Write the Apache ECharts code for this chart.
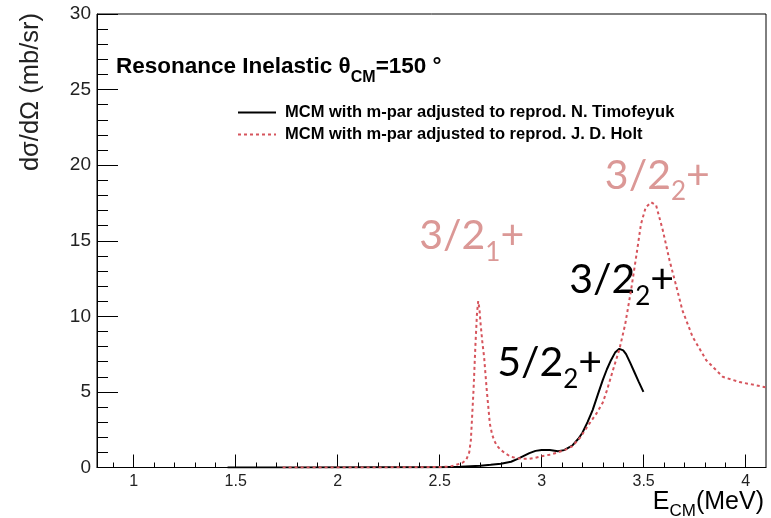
<!DOCTYPE html>
<html>
<head>
<meta charset="utf-8">
<script src="https://cdn.jsdelivr.net/npm/echarts@6/dist/echarts.min.js"></script>
<style>
  html, body { margin: 0; padding: 0; background: #fff; }
  #chart { width: 771px; height: 518px; }
</style>
</head>
<body>
<div id="chart"></div>
<script>
// Cross section vs. centre-of-mass energy, two MCM parameter sets
const timofeyukE  = [1.46, 1.8, 2.2, 2.5, 2.6, 2.7, 2.75, 2.8, 2.85, 2.88, 2.91, 2.94, 2.97, 3.0, 3.04, 3.08, 3.11, 3.15, 3.18, 3.2, 3.225, 3.25, 3.275, 3.3, 3.32, 3.34, 3.36, 3.381, 3.4, 3.414, 3.435, 3.455, 3.475, 3.499];
const timofeyukXS = [0.0, 0.0, 0.01, 0.02, 0.05, 0.12, 0.18, 0.25, 0.38, 0.55, 0.75, 0.95, 1.1, 1.16, 1.15, 1.08, 1.15, 1.45, 1.9, 2.3, 3.0, 3.8, 4.8, 5.8, 6.5, 7.1, 7.6, 7.85, 7.75, 7.5, 6.9, 6.3, 5.7, 5.0];

const holtE  = [1.73, 2.0, 2.3, 2.5, 2.55, 2.58, 2.61, 2.63, 2.645, 2.653, 2.666, 2.675, 2.683, 2.689, 2.695, 2.70, 2.71, 2.718, 2.731, 2.746, 2.757, 2.767, 2.78, 2.80, 2.82, 2.849, 2.88, 2.91, 2.94, 2.97, 3.00, 3.04, 3.08, 3.12, 3.15, 3.19, 3.234, 3.27, 3.30, 3.32, 3.34, 3.36, 3.381, 3.41, 3.438, 3.463, 3.487, 3.51, 3.537, 3.561, 3.594, 3.627, 3.66, 3.69, 3.74, 3.807, 3.888, 3.97, 4.03, 4.10];
const holtXS = [0.0, 0.0, 0.01, 0.03, 0.06, 0.17, 0.3, 0.5, 1.0, 1.8, 5.1, 8.0, 10.2, 11.0, 10.5, 9.6, 8.2, 7.3, 5.1, 2.9, 2.2, 1.8, 1.45, 1.16, 0.95, 0.71, 0.62, 0.57, 0.58, 0.65, 0.75, 0.85, 1.0, 1.2, 1.4, 2.0, 2.9, 3.6, 4.3, 5.1, 6.0, 6.9, 7.8, 9.5, 11.7, 13.9, 16.1, 17.2, 17.55, 17.35, 15.7, 13.7, 12.0, 10.4, 8.65, 7.1, 6.0, 5.65, 5.5, 5.3];

const seriesNames = [
  'MCM with m-par adjusted to reprod. N. Timofeyuk',
  'MCM with m-par adjusted to reprod. J. D. Holt'
];

// axis ticks
const xMajorTicks = [1, 1.5, 2, 2.5, 3, 3.5, 4];
const xMinorTicks = [0.9, 1.1, 1.2, 1.3, 1.4, 1.6, 1.7, 1.8, 1.9, 2.1, 2.2, 2.3, 2.4, 2.6, 2.7, 2.8, 2.9, 3.1, 3.2, 3.3, 3.4, 3.6, 3.7, 3.8, 3.9];
const xRange = [0.82, 4.1];
const yRange = [0, 30];

// state labels: [main, subscript, suffix, E, sigma, colour key]
const stateLabels = [
  ['3/2', '1', '+', 2.40, 14.5, 'holt'],
  ['3/2', '2', '+', 3.31, 18.5, 'holt'],
  ['3/2', '2', '+', 3.135, 11.6, 'timo'],
  ['5/2', '2', '+', 2.782, 6.1, 'timo']
];

const zip = (a, b) => a.map((v, i) => [v, b[i]]);
const SANS = '"Liberation Sans", Arial, Helvetica, sans-serif';
const LABEL_FONT = 'Lato, "Open Sans", sans-serif';
const labelColours = { holt: '#db9896', timo: '#000000' };

const chart = echarts.init(document.getElementById('chart'), null, { renderer: 'canvas' });

chart.setOption({
  animation: false,
  backgroundColor: '#ffffff',
  grid: {
    left: 97, right: 5, top: 14, bottom: 50.5,
    show: true, borderColor: '#000', borderWidth: 1, backgroundColor: 'transparent'
  },
  legend: {
    orient: 'vertical',
    left: 232, top: 99,
    itemWidth: 38, itemHeight: 14, itemGap: 5,
    data: seriesNames,
    // line-only keys: the marker symbol is made invisible
    itemStyle: { color: 'transparent', borderColor: 'transparent', borderWidth: 0, opacity: 0 },
    textStyle: { fontFamily: SANS, fontWeight: 'bold', fontSize: 16.5, color: '#000', padding: [0, 0, 0, 4] }
  },
  xAxis: [{
    type: 'value', min: xRange[0], max: xRange[1],
    axisLine: { show: true, onZero: false, lineStyle: { color: '#000', width: 1 } },
    axisTick: { show: true, inside: true, length: 13, customValues: xMajorTicks, lineStyle: { color: '#000' } },
    axisLabel: { show: true, customValues: xMajorTicks, margin: 6, fontFamily: SANS, fontSize: 16, color: '#222' },
    splitLine: { show: false }
  }, {
    type: 'value', min: xRange[0], max: xRange[1], position: 'bottom',
    axisLine: { show: false },
    axisTick: { show: true, inside: true, length: 5, customValues: xMinorTicks, lineStyle: { color: '#000' } },
    axisLabel: { show: false },
    splitLine: { show: false }
  }],
  yAxis: {
    type: 'value', min: yRange[0], max: yRange[1], interval: 5,
    axisLine: { show: true, lineStyle: { color: '#000', width: 1 } },
    axisTick: { show: true, inside: true, length: 21, lineStyle: { color: '#000' } },
    minorTick: { show: true, splitNumber: 5, length: 11, lineStyle: { color: '#000' } },
    axisLabel: { margin: 6, fontFamily: SANS, fontSize: 19, color: '#222' },
    splitLine: { show: false }
  },
  series: [{
    name: seriesNames[0], type: 'line', symbol: 'none', xAxisIndex: 0,
    data: zip(timofeyukE, timofeyukXS),
    lineStyle: { color: '#000', width: 2 },
    itemStyle: { color: '#000' }
  }, {
    name: seriesNames[1], type: 'line', symbol: 'none', xAxisIndex: 0,
    data: zip(holtE, holtXS),
    lineStyle: { color: '#d6545c', width: 2, type: [3, 3] },
    itemStyle: { color: '#d6545c' }
  }]
});

// text helpers: a run of pieces with individual size and baseline shift
const measureCtx = document.createElement('canvas').getContext('2d');
function textWidth(str, font) { measureCtx.font = font; return measureCtx.measureText(str).width; }

function textRun(pieces, x, baseline, family, weight, colour, alignRight) {
  const fonts = pieces.map(p => `${weight} ${p.size}px ${family}`);
  const widths = pieces.map((p, i) => textWidth(p.text, fonts[i]));
  const total = widths.reduce((a, b) => a + b, 0);
  let cx = alignRight ? x - total : x;
  return pieces.map((p, i) => {
    const el = {
      type: 'text', silent: true,
      x: cx, y: baseline + (p.dy || 0) - 0.3 * p.size,
      style: { text: p.text, font: fonts[i], fill: colour, textAlign: 'left', textVerticalAlign: 'middle' }
    };
    cx += widths[i];
    return el;
  });
}

function layoutText() {
  const els = [];
  // plot title
  els.push(...textRun([
    { text: 'Resonance Inelastic \u03b8', size: 22.5 },
    { text: 'CM', size: 16, dy: 8 },
    { text: '=150 \u00b0', size: 22.5 }
  ], 116, 74, SANS, 'bold', '#000', false));
  // x axis title
  els.push(...textRun([
    { text: 'E', size: 25 },
    { text: 'CM', size: 17, dy: 6 },
    { text: '(MeV)', size: 25 }
  ], 764, 510, SANS, 'normal', '#000', true));
  // y axis title, rotated
  els.push({
    type: 'text', silent: true, x: 31, y: 13, rotation: Math.PI / 2,
    style: { text: 'd\u03c3/d\u03a9 (mb/sr)', font: `normal 25.5px ${SANS}`, fill: '#222', textAlign: 'right', textVerticalAlign: 'middle' }
  });
  // state labels positioned in data space
  stateLabels.forEach(([main, sub, suf, e, s, key]) => {
    const [px, py] = chart.convertToPixel({ xAxisIndex: 0, yAxisIndex: 0 }, [e, s]);
    els.push(...textRun([
      { text: main, size: 41 },
      { text: sub, size: 26, dy: 12 },
      { text: suf, size: 41 }
    ], px, py, LABEL_FONT, 'normal', labelColours[key], false));
  });
  chart.setOption({ graphic: els });
}
layoutText();
</script>
</body>
</html>
